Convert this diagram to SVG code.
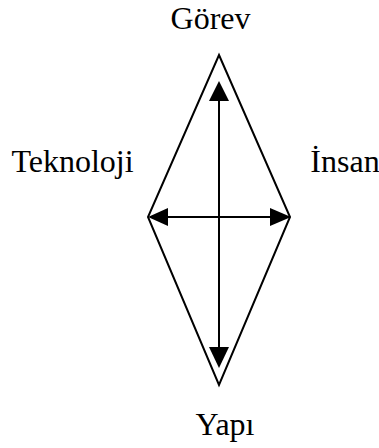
<svg xmlns="http://www.w3.org/2000/svg" width="379" height="448" viewBox="0 0 379 448">
<style>
.lbl{font-family:"Liberation Serif","Times New Roman",serif;font-size:32px;fill:#000;text-anchor:middle}
.ln{stroke:#000;stroke-width:2;fill:none}
.ah{fill:#000;stroke:none}
</style>
<rect width="379" height="448" fill="#fff"/>
<g id="diamond">
<polygon class="ln" points="219,55 290,217 219,385 148,217"/>
</g>
<g id="connectors">
<line class="ln" x1="219" y1="95" x2="219" y2="352"/>
<polygon class="ah" points="219,81 229,101 209,101"/>
<polygon class="ah" points="219,368 229,347 209,347"/>
<line class="ln" x1="160" y1="217" x2="278" y2="217"/>
<polygon class="ah" points="148,217 168,208 168,226"/>
<polygon class="ah" points="291,217 270,208 270,226"/>
</g>
<g id="gorev"><text class="lbl" x="210.5" y="29">Görev</text></g>
<g id="teknoloji"><text class="lbl" x="72.5" y="172">Teknoloji</text></g>
<g id="insan"><text class="lbl" x="345" y="172">İnsan</text></g>
<g id="yapi"><text class="lbl" x="225" y="435">Yapı</text></g>
</svg>
